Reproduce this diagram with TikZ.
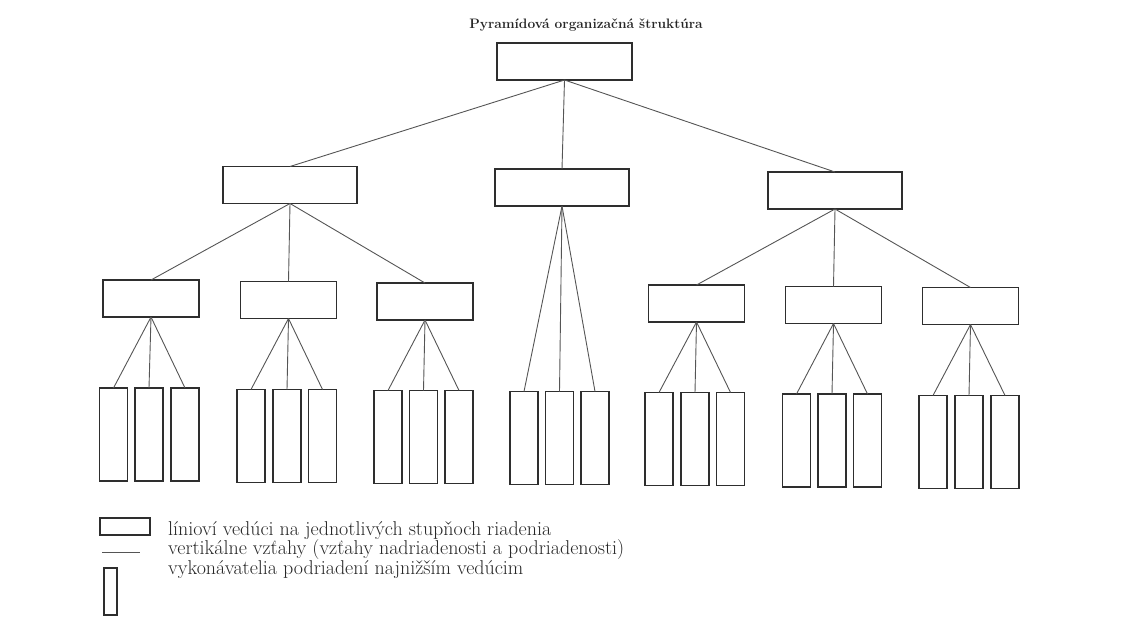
\documentclass[tikz,border=0pt]{standalone}
\usepackage{fontspec}
\definecolor{ink}{HTML}{2E2E2E}
\definecolor{wire}{HTML}{555555}
\definecolor{type}{HTML}{262626}
\begin{document}
\begin{tikzpicture}[x=1pt,y=-1pt,
  box/.style={draw=ink, line width=1.7pt, fill=white, inner sep=0pt, outer sep=0pt},
  mgr/.style={box, minimum width=134pt, minimum height=37pt},
  sub/.style={box, minimum width=96pt, minimum height=37pt},
  worker/.style={box, minimum width=28pt, minimum height=93pt},
  link/.style={draw=wire, line width=0.9pt},
  legtext/.style={anchor=base west, text=type, font=\fontsize{20}{22}\selectfont, inner sep=0pt}]
\useasboundingbox (0,0) rectangle (1134,624);

% title
\node[anchor=base, text=type, inner sep=0pt, font=\bfseries\fontsize{13.7}{16}\selectfont] (title) at (586,28) {Pyramídová organizačná štruktúra};

% top manager
\node[mgr, minimum width=135pt] (top) at (564.5,61.5) {};

% second level
\node[mgr] (m1) at (290,185) {};
\node[mgr] (m2) at (562,187.5) {};
\node[mgr] (m3) at (835,190.5) {};

% third level
\node[sub] (s1) at (151,298.5) {};
\node[sub] (s2) at (288.5,300) {};
\node[sub] (s3) at (425,301.5) {};
\node[sub] (s4) at (696.5,303.5) {};
\node[sub] (s5) at (833.5,305) {};
\node[sub] (s6) at (970.5,306) {};

% executive staff
\node[worker] (w11) at (113.5,434.5) {};
\node[worker] (w12) at (149,434.5) {};
\node[worker] (w13) at (185,434.5) {};
\node[worker] (w21) at (251,436) {};
\node[worker] (w22) at (287,436) {};
\node[worker] (w23) at (322.5,436) {};
\node[worker] (w31) at (388,437) {};
\node[worker] (w32) at (423.5,437) {};
\node[worker] (w33) at (459,437) {};
\node[worker] (wm1) at (524,438) {};
\node[worker] (wm2) at (559.5,438) {};
\node[worker] (wm3) at (595,438) {};
\node[worker] (w41) at (659,439) {};
\node[worker] (w42) at (695,439) {};
\node[worker] (w43) at (730.5,439) {};
\node[worker] (w51) at (796.5,440.5) {};
\node[worker] (w52) at (832,440.5) {};
\node[worker] (w53) at (867.5,440.5) {};
\node[worker] (w61) at (933,442) {};
\node[worker] (w62) at (969,442) {};
\node[worker] (w63) at (1005,442) {};

% reporting lines
\foreach \c in {m1,m2,m3} \draw[link] (top.south) -- (\c.north);
\foreach \c in {s1,s2,s3} \draw[link] (m1.south) -- (\c.north);
\foreach \c in {s4,s5,s6} \draw[link] (m3.south) -- (\c.north);
\foreach \c in {wm1,wm2,wm3} \draw[link] (m2.south) -- (\c.north);
\foreach \p/\q in {s1/1,s2/2,s3/3,s4/4,s5/5,s6/6}
  \foreach \k in {1,2,3} \draw[link] (\p.south) -- (w\q\k.north);

% legend
\node[box, minimum width=50pt, minimum height=17pt] (keymgr) at (125,526.5) {};
\coordinate (keya) at (102,552);
\coordinate (keyb) at (140,552);
\draw[link] (keya) -- (keyb);
\node[box, minimum width=13pt, minimum height=47pt] (keywrk) at (110.5,591.5) {};
\node[legtext] (t1) at (168,535) {línioví vedúci na jednotlivých stupňoch riadenia};
\node[legtext] (t2) at (168,554) {vertikálne vzťahy (vzťahy nadriadenosti a podriadenosti)};
\node[legtext] (t3) at (168,574) {vykonávatelia podriadení najnižším vedúcim};
\end{tikzpicture}
\end{document}
